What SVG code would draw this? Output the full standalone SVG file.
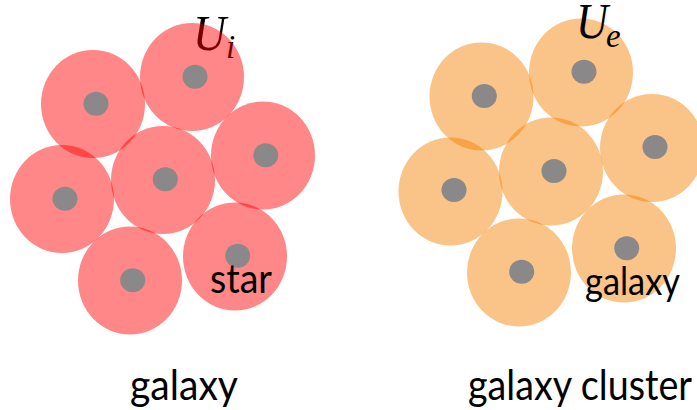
<svg xmlns="http://www.w3.org/2000/svg" width="697" height="410" viewBox="0 0 697 410">
<style>
.r{fill:#ff0000;fill-opacity:0.47}
.o{fill:#f48000;fill-opacity:0.47}
.d{fill:#8a8888}
.lbl{font-family:Lato,"Open Sans",sans-serif;fill:#000}
.math{font-family:"Liberation Serif",serif;font-style:italic;fill:#000}
</style>
<rect width="697" height="410" fill="#fff"/>
<g id="galaxy-label-math">
<text class="math" x="193" y="50" font-size="51" textLength="33" lengthAdjust="spacingAndGlyphs">U</text>
<text class="math" x="226" y="58" font-size="33">i</text>
</g>
<g id="galaxy">
<g id="star1"><ellipse class="r" cx="93" cy="104" rx="52" ry="54"/><ellipse class="d" cx="96" cy="103.7" rx="12.5" ry="12"/></g>
<g id="star2"><ellipse class="r" cx="192" cy="77" rx="52" ry="54"/><ellipse class="d" cx="195" cy="76.7" rx="12.5" ry="12"/></g>
<g id="star3"><ellipse class="r" cx="263" cy="155.5" rx="52" ry="54"/><ellipse class="d" cx="265.7" cy="155.3" rx="12.5" ry="12"/></g>
<g id="star4"><ellipse class="r" cx="163" cy="180" rx="52" ry="54"/><ellipse class="d" cx="165.3" cy="179.3" rx="12.5" ry="12"/></g>
<g id="star5"><ellipse class="r" cx="62" cy="199" rx="52" ry="54"/><ellipse class="d" cx="65" cy="198.7" rx="12.5" ry="12"/></g>
<g id="star6"><ellipse class="r" cx="235" cy="256.5" rx="52" ry="54"/><ellipse class="d" cx="237.7" cy="255.7" rx="12.5" ry="12"/></g>
<g id="star7"><ellipse class="r" cx="130" cy="280.5" rx="52" ry="54"/><ellipse class="d" cx="132.7" cy="280.3" rx="12.5" ry="12"/></g>
<text class="lbl" x="210" y="293" font-size="40" textLength="62" lengthAdjust="spacingAndGlyphs">star</text>
</g>
<g id="cluster">
<g id="gal1"><ellipse class="o" cx="481.5" cy="96.5" rx="52" ry="54"/><ellipse class="d" cx="484.3" cy="96" rx="12.5" ry="12"/></g>
<g id="gal2"><ellipse class="o" cx="581" cy="72.5" rx="52" ry="54"/><ellipse class="d" cx="584" cy="71.7" rx="12.5" ry="12"/></g>
<g id="gal3"><ellipse class="o" cx="652" cy="148" rx="52" ry="54"/><ellipse class="d" cx="655" cy="147" rx="12.5" ry="12"/></g>
<g id="gal4"><ellipse class="o" cx="551" cy="171.5" rx="52" ry="54"/><ellipse class="d" cx="554" cy="171" rx="12.5" ry="12"/></g>
<g id="gal5"><ellipse class="o" cx="450.5" cy="191.5" rx="52" ry="54"/><ellipse class="d" cx="454" cy="190" rx="12.5" ry="12"/></g>
<g id="gal6"><ellipse class="o" cx="624" cy="248.5" rx="52" ry="54"/><ellipse class="d" cx="626.7" cy="248.3" rx="12.5" ry="12"/></g>
<g id="gal7"><ellipse class="o" cx="519" cy="272.5" rx="52" ry="54"/><ellipse class="d" cx="521.7" cy="271.7" rx="12.5" ry="12"/></g>
<text class="lbl" x="585" y="295" font-size="38" textLength="95" lengthAdjust="spacingAndGlyphs">galaxy</text>
</g>
<g id="cluster-label-math">
<text class="math" x="576" y="38" font-size="51" textLength="32" lengthAdjust="spacingAndGlyphs">U</text>
<text class="math" x="606" y="47" font-size="33">e</text>
</g>
<g id="captions">
<text class="lbl" x="130" y="400" font-size="42" textLength="108" lengthAdjust="spacingAndGlyphs">galaxy</text>
<text class="lbl" x="468" y="400" font-size="42" textLength="224" lengthAdjust="spacingAndGlyphs">galaxy cluster</text>
</g>
</svg>
